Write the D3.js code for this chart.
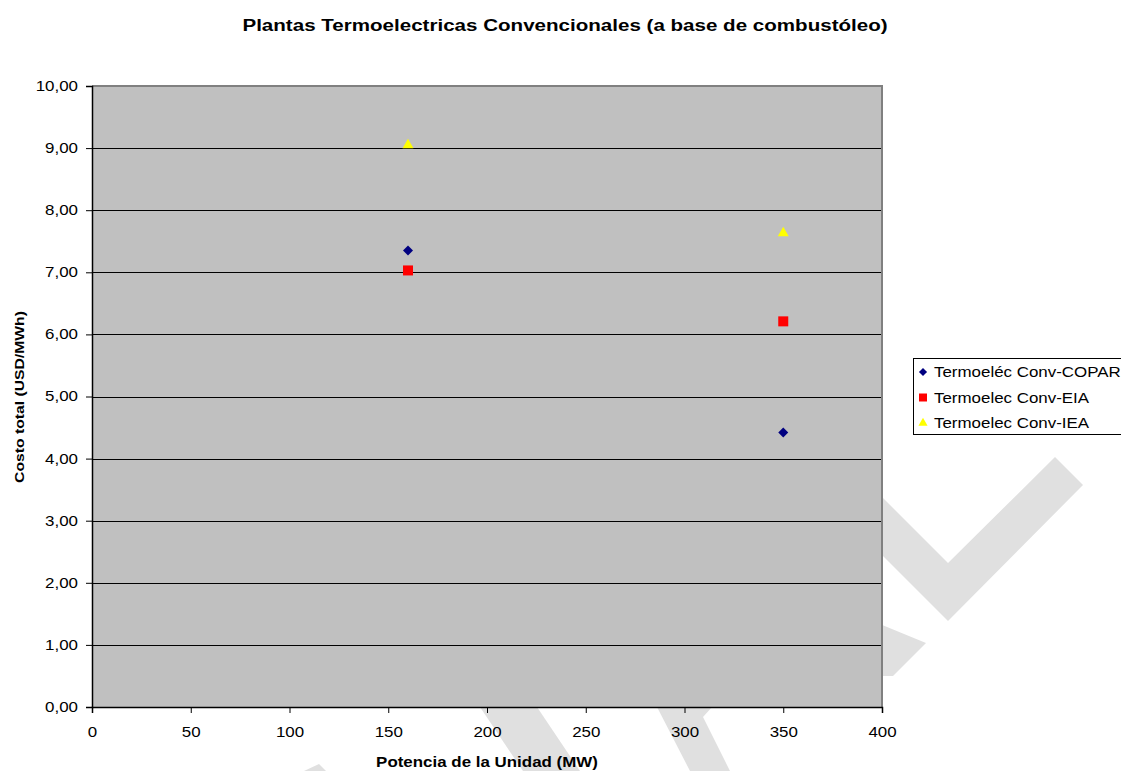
<!DOCTYPE html>
<html>
<head>
<meta charset="utf-8">
<script src="https://cdn.jsdelivr.net/npm/d3@7"></script>
<style>
  html, body { margin: 0; padding: 0; background: #ffffff; }
  svg { display: block; font-family: "Liberation Sans", Arial, sans-serif; }
</style>
</head>
<body>
<svg id="chart" width="1121" height="771"></svg>
<script>
// Costo total por tamaño de unidad, tres fuentes
const seriesNames = ["Termoeléc Conv-COPAR", "Termoelec Conv-EIA", "Termoelec Conv-IEA"];
const potenciaMW = [160, 350];
const costoCOPAR = [7.35, 4.42];
const costoEIA = [7.03, 6.21];
const costoIEA = [9.05, 7.63];
const xTickValues = [0, 50, 100, 150, 200, 250, 300, 350, 400];
const yTickValues = [0, 1, 2, 3, 4, 5, 6, 7, 8, 9, 10];

const titleText = "Plantas Termoelectricas Convencionales (a base de combustóleo)";
const xTitle = "Potencia de la Unidad (MW)";
const yTitle = "Costo total (USD/MWh)";

// wide glyph rendering used for every label
const WIDE = 1.21;

const series = [
  { name: seriesNames[0], values: costoCOPAR, symbol: d3.symbolDiamond2, size: 64, legendSize: 42, color: "#000080" },
  { name: seriesNames[1], values: costoEIA, symbol: d3.symbolSquare, size: 100, legendSize: 64, color: "#ff0000" },
  { name: seriesNames[2], values: costoIEA, symbol: d3.symbolTriangle, size: 52, legendSize: 36, color: "#ffff00" }
];

const svg = d3.select("#chart");
const plot = { left: 92, right: 882, top: 86, bottom: 707 };

const x = d3.scaleLinear().domain([0, 400]).range([plot.left, plot.right]);
const y = d3.scaleLinear().domain([0, 10]).range([plot.bottom, plot.top]);
const fmtY = v => d3.format(".2f")(v).replace(".", ",");

function wideText(parent, tx, ty, rot, str, size, weight, anchor) {
  return parent.append("text")
    .attr("transform", `translate(${tx},${ty}) rotate(${rot}) scale(${WIDE},1)`)
    .attr("text-anchor", anchor)
    .attr("font-size", size)
    .attr("font-weight", weight)
    .attr("fill", "#000")
    .text(str);
}

// light diagonal watermark strokes behind the chart
const watermark = [
  [[860, 475], [948, 563], [1055, 457], [1083, 485], [948, 621], [860, 533]],
  [[870, 620], [926, 643], [893, 676], [870, 676]],
  [[480, 707], [537, 707], [580, 771], [523, 771]],
  [[657, 707], [712, 707], [703, 717], [730, 771], [690, 771]],
  [[304, 771], [319, 764], [326, 771]]
];
svg.append("g").selectAll("path").data(watermark).join("path")
  .attr("d", d => d3.line()(d) + "Z")
  .attr("fill", "#e0e0e0");

// plot area
svg.append("rect")
  .attr("x", plot.left).attr("y", plot.top)
  .attr("width", plot.right - plot.left).attr("height", plot.bottom - plot.top)
  .attr("fill", "#c0c0c0");

// horizontal gridlines
svg.append("g").selectAll("line").data(yTickValues.filter(v => v > 0 && v < 10)).join("line")
  .attr("x1", plot.left).attr("x2", plot.right)
  .attr("y1", d => Math.round(y(d)) + 0.5).attr("y2", d => Math.round(y(d)) + 0.5)
  .attr("stroke", "#000").attr("stroke-width", 1);

// top and right borders of the plot area
svg.append("path")
  .attr("d", `M${plot.left},${plot.top} H${plot.right} V${plot.bottom}`)
  .attr("fill", "none").attr("stroke", "#808080").attr("stroke-width", 2);

// axes
const xAxis = d3.axisBottom(x).tickValues(xTickValues).tickSize(6).tickPadding(14).tickFormat(d3.format("d"));
const yAxis = d3.axisLeft(y).tickValues(yTickValues).tickSize(6).tickPadding(5.6).tickFormat(fmtY);

const gx = svg.append("g").attr("transform", `translate(0,${plot.bottom})`).call(xAxis);
const gy = svg.append("g").attr("transform", `translate(${plot.left},0)`).call(yAxis);
[gx, gy].forEach(g => {
  g.select(".domain").attr("stroke", "#000").attr("stroke-width", 1.5);
  g.selectAll(".tick line").attr("stroke", "#000");
  g.selectAll(".tick text").attr("fill", "#000")
    .attr("transform", `scale(${WIDE},1)`)
    .style("font-family", '"Liberation Sans", Arial, sans-serif').style("font-size", "14px");
});

// data points
const pts = svg.append("g");
series.forEach(s => {
  pts.selectAll(null).data(potenciaMW.map((p, i) => [p, s.values[i]])).join("path")
    .attr("transform", d => `translate(${x(d[0])},${y(d[1])})`)
    .attr("d", d3.symbol(s.symbol, s.size))
    .attr("fill", s.color);
});

// titles
wideText(svg, 565, 31, 0, titleText, 17, "bold", "middle");
wideText(svg, 487, 767, 0, xTitle, 14, "bold", "middle");
wideText(svg, 24, 397, -90, yTitle, 13, "bold", "middle");

// legend
const lg = svg.append("g");
lg.append("rect").attr("x", 913.5).attr("y", 358.5).attr("width", 230).attr("height", 76)
  .attr("fill", "#fff").attr("stroke", "#000").attr("stroke-width", 1);
series.forEach((s, i) => {
  const cy = 372 + i * 25.5;
  lg.append("path").attr("transform", `translate(923,${cy})`)
    .attr("d", d3.symbol(s.symbol, s.legendSize)).attr("fill", s.color);
  wideText(lg, 934, cy + 5, 0, s.name, 14, "normal", "start");
});
</script>
</body>
</html>
